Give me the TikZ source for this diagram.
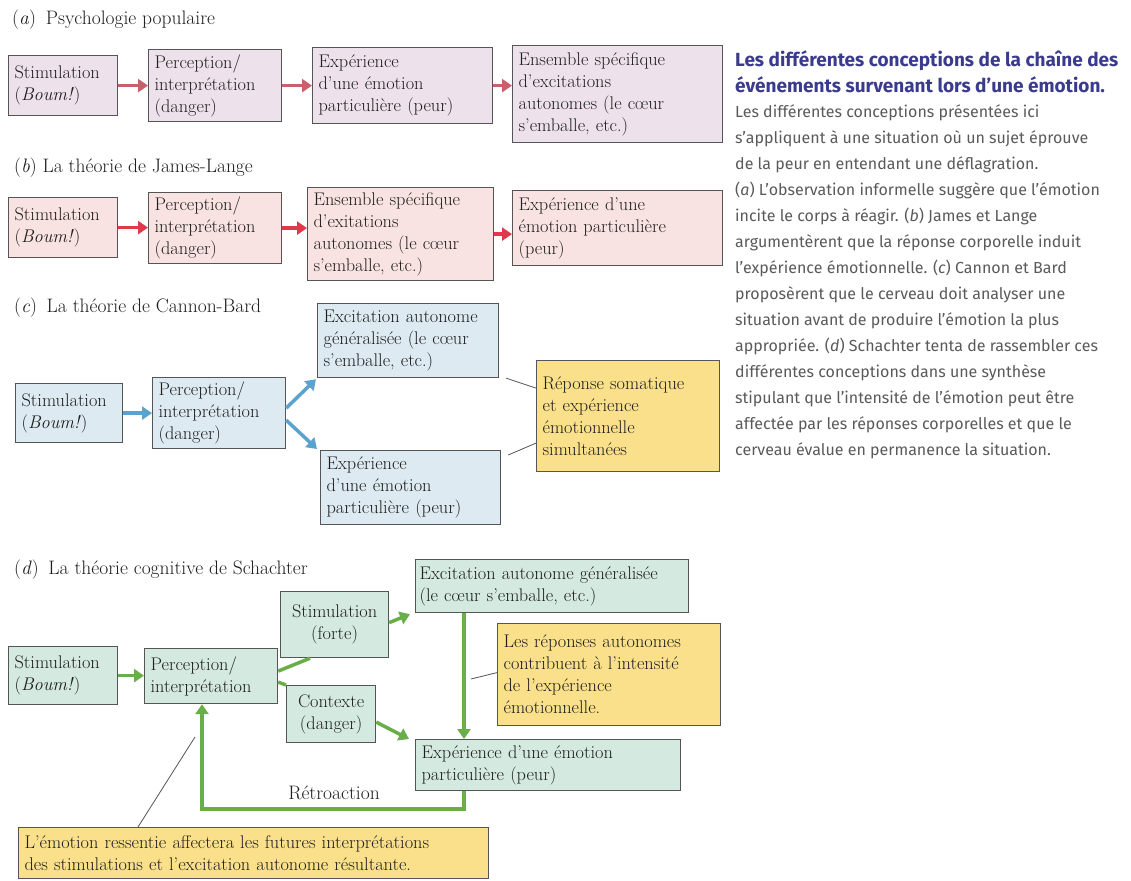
\documentclass[tikz,border=0pt]{standalone}
\usepackage{fontspec}
\newfontfamily\capfont{Fira Sans}
\usetikzlibrary{arrows.meta,calc}
\definecolor{bord}{HTML}{555555}
\definecolor{txt}{HTML}{1E1E1E}
\definecolor{fa}{HTML}{EDE1EC}
\definecolor{arra}{HTML}{C9606C}
\definecolor{fb}{HTML}{F9E2E2}
\definecolor{arrb}{HTML}{DE3A4C}
\definecolor{fc}{HTML}{DDEAF1}
\definecolor{arrc}{HTML}{5BA3CF}
\definecolor{fd}{HTML}{D4E9E0}
\definecolor{arrd}{HTML}{6AAE4A}
\definecolor{yel}{HTML}{FAE08A}
\definecolor{captitle}{HTML}{3B3B8E}
\definecolor{capbody}{HTML}{5A5A5A}
\newcommand\bxfont{\fontsize{18.3}{22}\selectfont}
\newcommand\ttlfont{\fontsize{19.5}{22}\selectfont}
\tikzset{
  box/.style={draw=bord, line width=1.2pt, anchor=north west, inner xsep=6pt, inner ysep=0pt,
    align=left, font=\bxfont, text=txt},
  boxA/.style={box, fill=fa},
  boxB/.style={box, fill=fb},
  boxC/.style={box, fill=fc},
  boxD/.style={box, fill=fd},
  boxY/.style={box, fill=yel},
  ttl/.style={anchor=west, inner sep=0pt, font=\ttlfont, text=txt},
  arrbase/.style={line width=3.5pt, -{Triangle[length=10pt,width=13pt]}},
  arrA/.style={arrbase, draw=arra},
  arrB/.style={arrbase, draw=arrb},
  arrC/.style={arrbase, draw=arrc},
  arrD/.style={arrbase, draw=arrd},
  lineD/.style={line width=3.5pt, draw=arrd},
  pointer/.style={draw=bord, line width=0.8pt},
}
\begin{document}
\begin{tikzpicture}[x=1pt,y=-1pt]
\fill[white] (0,0) rectangle (1131,880);
\useasboundingbox (0,0) rectangle (1131,880);

% ---------- (a)
\node[ttl] (ta) at (12,20) {(\textit{a})\enspace Psychologie populaire};
\node[boxA, text width=97pt, minimum height=60pt] (a1) at (8,55) {Stimulation\\(\textit{Boum!})};
\node[boxA, text width=121pt, minimum height=72pt] (a2) at (148,49) {Perception/\\interprétation\\(danger)};
\node[boxA, text width=168pt, minimum height=76pt] (a3) at (312,47) {Expérience\\d’une émotion\\particulière (peur)};
\node[boxA, text width=198pt, minimum height=97pt] (a4) at (512,45) {Ensemble spécifique\\d’excitations\\autonomes (le cœur\\s’emballe, etc.)};
\draw[arrA] (a1.east) -- (a1.east -| a2.west);
\draw[arrA] (a2.east) -- (a2.east -| a3.west);
\draw[arrA] (a3.east) -- (a3.east -| a4.west);

% ---------- (b)
\node[ttl] (tb) at (14,168) {(\textit{b}) La théorie de James-Lange};
\node[boxB, text width=97pt, minimum height=60pt] (b1) at (8,197) {Stimulation\\(\textit{Boum!})};
\node[boxB, text width=121pt, minimum height=71pt] (b2) at (148,192) {Perception/\\interprétation\\(danger)};
\node[boxB, text width=174pt, minimum height=93pt] (b3) at (307,187) {Ensemble spécifique\\d’exitations\\autonomes (le cœur\\s’emballe, etc.)};
\node[boxB, text width=198pt, minimum height=75pt] (b4) at (512,190) {Expérience d’une\\émotion particulière\\(peur)};
\draw[arrB] (b1.east) -- (b1.east -| b2.west);
\draw[arrB] (b2.east) -- (b2.east -| b3.west);
\draw[arrB] (b3.east) -- (b3.east -| b4.west);

% ---------- (c)
\node[ttl] (tc) at (14,308) {(\textit{c})\enspace La théorie de Cannon-Bard};
\node[boxC, text width=95pt, minimum height=59pt] (c1) at (15,383) {Stimulation\\(\textit{Boum!})};
\node[boxC, text width=121pt, minimum height=71pt] (c2) at (152,377) {Perception/\\interprétation\\(danger)};
\node[boxC, text width=169pt, minimum height=74pt] (c3) at (317,303) {Excitation autonome\\généralisée (le cœur\\s’emballe, etc.)};
\node[boxC, text width=168pt, minimum height=74pt] (c4) at (320,450) {Expérience\\d’une émotion\\particulière (peur)};
\node[boxY, text width=171pt, minimum height=111pt] (c5) at (536,360) {Réponse somatique\\et expérience\\émotionnelle\\simultanées};
\draw[arrC] (c1.east) -- (c1.east -| c2.west);
\draw[arrC] ([yshift=5pt]c2.east) -- ([shift={(-1pt,-1pt)}]c3.south west);
\draw[arrC] ([yshift=-7pt]c2.east) -- ([shift={(-3pt,1pt)}]c4.north west);
\draw[pointer] ([xshift=7pt]c3.south east) -- ([yshift=28pt]c5.west);
\draw[pointer] ([shift={(7pt,-5pt)}]c4.north east) -- ([yshift=-27pt]c5.west);

% ---------- (d)
\node[ttl] (td) at (14,570) {(\textit{d})\enspace La théorie cognitive de Schachter};
\node[boxD, text width=97pt, minimum height=58pt] (d1) at (8,646) {Stimulation\\(\textit{Boum!})};
\node[boxD, text width=121pt, minimum height=55pt] (d2) at (144,648) {Perception/\\interprétation};
\node[boxD, text width=96pt, minimum height=66pt, align=center] (d3) at (280,591) {Stimulation\\(forte)};
\node[boxD, text width=77pt, minimum height=57pt, align=center] (d4) at (286,685) {Contexte\\(danger)};
\node[boxD, inner xsep=4pt, text width=265pt, minimum height=53pt] (d5) at (415,559) {Excitation autonome généralisée\\(le cœur s’emballe, etc.)};
\node[boxY, text width=211pt, minimum height=102pt] (d6) at (497,623) {Les réponses autonomes\\contribuent à l’intensité\\de l’expérience\\émotionnelle.};
\node[boxD, text width=253pt, minimum height=51pt] (d7) at (415,739) {Expérience d’une émotion\\particulière (peur)};
\node[boxY, text width=458pt, minimum height=51pt] (d8) at (18,827) {L’émotion ressentie affectera les futures interprétations\\des stimulations et l’excitation autonome résultante.};
\node[anchor=center, inner sep=0pt, font=\ttlfont, text=txt] (retro) at (334,793) {Rétroaction};

\draw[arrD] (d1.east) -- (d1.east -| d2.west);
\draw[lineD] ([yshift=5pt]d2.east) -- ([xshift=30pt]d3.south west);
\draw[lineD] ([yshift=-6pt]d2.east) -- (d4.north west);
\draw[arrD] ([yshift=2pt]d3.east) -- ([shift={(-5pt,-1pt)}]d5.south west);
\draw[arrD] ([yshift=-8pt]d4.east) -- ([xshift=-6pt]d7.north west);
\draw[arrD] ([xshift=49pt]d5.south west) -- ([xshift=49pt]d7.north west);
\draw[arrD] ([xshift=49pt]d7.south west) -- ++(0,18) -| ([xshift=58pt]d2.south west);
\coordinate (p6) at (471,679);
\coordinate (p8) at (195,737);
\draw[pointer] ([yshift=2pt]d6.west) -- (p6);
\draw[pointer] ([xshift=120pt]d8.north west) -- (p8);

% ---------- caption
\node[anchor=north west, inner sep=0pt, align=left, text=captitle,
      font=\capfont\bfseries\fontsize{19}{26}\selectfont] (cap1) at (735,50)
  {Les différentes conceptions de la chaîne des\\événements survenant lors d’une émotion.};
\node[anchor=north west, inner sep=0pt, align=left, text=capbody,
      font=\capfont\fontsize{16}{26}\selectfont] (cap2) at (735,104)
  {Les différentes conceptions présentées ici\\
   s’appliquent à une situation où un sujet éprouve\\
   de la peur en entendant une déflagration.\\
   (\textit{a}) L’observation informelle suggère que l’émotion\\
   incite le corps à réagir. (\textit{b}) James et Lange\\
   argumentèrent que la réponse corporelle induit\\
   l’expérience émotionnelle. (\textit{c}) Cannon et Bard\\
   proposèrent que le cerveau doit analyser une\\
   situation avant de produire l’émotion la plus\\
   appropriée. (\textit{d}) Schachter tenta de rassembler ces\\
   différentes conceptions dans une synthèse\\
   stipulant que l’intensité de l’émotion peut être\\
   affectée par les réponses corporelles et que le\\
   cerveau évalue en permanence la situation.};
\end{tikzpicture}
\end{document}
